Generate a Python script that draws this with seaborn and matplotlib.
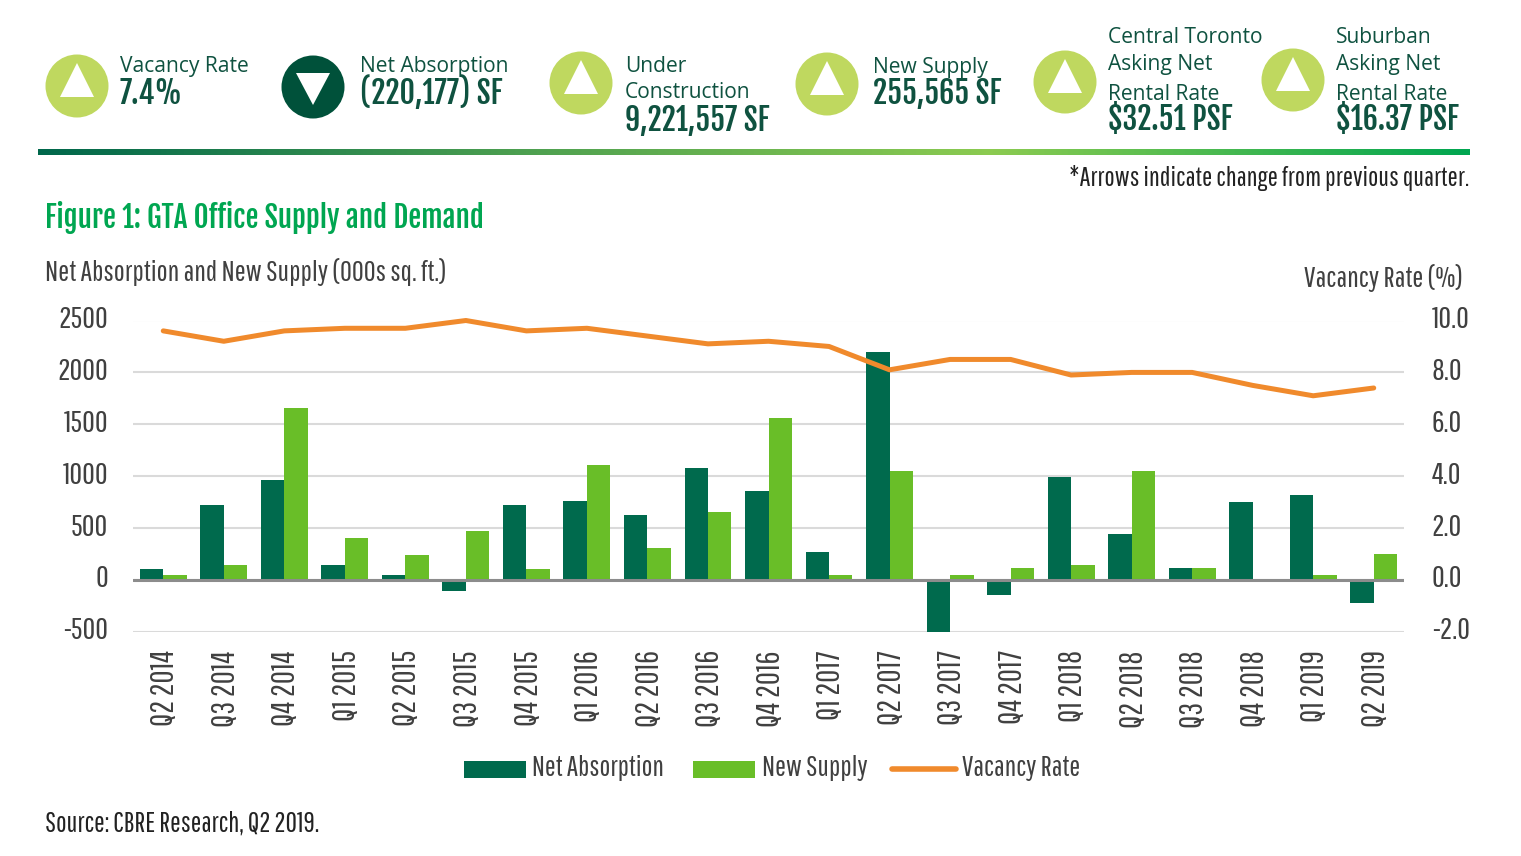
import numpy as np
import pandas as pd
import seaborn as sns
from matplotlib import pyplot as plt
from matplotlib import font_manager as fm
from matplotlib.colors import LinearSegmentedColormap
from matplotlib.patches import Ellipse, Polygon
from matplotlib.transforms import ScaledTranslation

W, H = 1521, 856

quarters = ["Q2 2014", "Q3 2014", "Q4 2014", "Q1 2015", "Q2 2015", "Q3 2015", "Q4 2015",
            "Q1 2016", "Q2 2016", "Q3 2016", "Q4 2016", "Q1 2017", "Q2 2017", "Q3 2017",
            "Q4 2017", "Q1 2018", "Q2 2018", "Q3 2018", "Q4 2018", "Q1 2019", "Q2 2019"]
net_absorption = [110, 725, 960, 150, 50, -105, 725, 760, 630, 1080, 855, 275, 2200, -500,
                  -140, 990, 440, 115, 755, 820, -225]
new_supply = [50, 150, 1660, 405, 245, 470, 110, 1110, 310, 660, 1560, 50, 1050, 50,
              115, 150, 1050, 115, 0, 50, 250]
vacancy_rate = [9.6, 9.2, 9.6, 9.7, 9.7, 10.0, 9.6, 9.7, 9.4, 9.1, 9.2, 9.0, 8.1, 8.5,
                8.5, 7.9, 8.0, 8.0, 7.5, 7.1, 7.4]
left_ticks = [-500, 0, 500, 1000, 1500, 2000, 2500]
right_ticks = [-2, 0, 2, 4, 6, 8, 10]

DARK = "#006A4D"
LIGHT = "#69BE28"
ORANGE = "#F08A2C"
KPI_LIGHT = "#BFD85F"
KPI_DARK = "#00513A"
KPI_TEXT = "#0F5240"
TITLE = "#00A651"
GREY = "#404040"

sns.set_theme(style="white")
names = {f.name for f in fm.fontManager.ttflist}


def pick(*candidates):
    for c in candidates:
        if c in names:
            return c
    return "Liberation Sans"


NARROW = pick("Pathway Gothic One", "Liberation Sans Narrow")
TITLE_FONT = pick("Fjalla One", "Oswald", "League Gothic")
plt.rcParams["font.family"] = [NARROW, "DejaVu Sans"]
plt.rcParams["axes.unicode_minus"] = False


def px(size):
    return size * 0.72


fig = plt.figure(figsize=(W / 100, H / 100), dpi=100, facecolor="white")

# main chart, placed in pixel terms
left, right, top, bottom = 133, 1404, 320.5, 632
ax = fig.add_axes([left / W, 1 - bottom / H, (right - left) / W, (bottom - top) / H])

df = pd.DataFrame({"quarter": quarters, "Net Absorption": net_absorption, "New Supply": new_supply})
long_df = df.melt(id_vars="quarter", var_name="series", value_name="value")
sns.barplot(data=long_df, x="quarter", y="value", hue="series", palette=[DARK, LIGHT],
            width=0.775, saturation=1, linewidth=0, ax=ax, legend=False, zorder=3)
ax.set_xlim(-0.5, len(quarters) - 0.5)
ax.set_ylim(-500, 2500)
ax.set_yticks(left_ticks)
ax.set_xlabel("")
ax.set_ylabel("")
ax.grid(axis="y", color="#DADADA", lw=1.5, zorder=0)
ax.set_axisbelow(True)
ax.axhline(0, color="#8C8C8C", lw=2.2, zorder=4)
ax.tick_params(axis="y", length=0, pad=18, labelsize=px(31), labelcolor=GREY)
ax.tick_params(axis="x", length=0, pad=13, labelsize=px(32), labelcolor=GREY, rotation=90)
sns.despine(ax=ax, left=True, bottom=True)

ax2 = ax.twinx()
sns.lineplot(x=np.arange(len(quarters)), y=vacancy_rate, color=ORANGE, lw=3.6, ax=ax2, zorder=5,
             clip_on=False, solid_capstyle="round")
ax2.set_ylim(-2, 10)
ax2.set_yticks(right_ticks)
ax2.set_yticklabels([f"{t:.1f}" for t in right_ticks])
ax2.tick_params(axis="y", length=0, pad=20, labelsize=px(31), labelcolor=GREY)
sns.despine(ax=ax2, left=True, right=True, bottom=True)
ax2.patch.set_alpha(0)

# the reference sets its y labels a touch above the gridlines, x labels a touch right
nudge_y = ScaledTranslation(0, 3 / 72, fig.dpi_scale_trans)
for lab in ax.get_yticklabels() + ax2.get_yticklabels():
    lab.set_transform(lab.get_transform() + nudge_y)
nudge_x = ScaledTranslation(1.5 / 72, 0, fig.dpi_scale_trans)
for lab in ax.get_xticklabels():
    lab.set_transform(lab.get_transform() + nudge_x)

# overlay in image pixels for header and captions
ov = fig.add_axes([0, 0, 1, 1], zorder=10)
ov.axis("off")
ov.patch.set_alpha(0)

# gradient rule under the KPI strip
cmap = LinearSegmentedColormap.from_list("rule", ["#00674B", "#4C9F50", "#8CCB50", "#00A651"])
ov.imshow(np.linspace(0, 1, 512).reshape(1, -1), extent=(38, 1470, 155, 149), cmap=cmap, aspect="auto")
ov.set_xlim(0, W)
ov.set_ylim(H, 0)


def kpi(cx, cy, up, labels, label_ys, value, value_y, tx):
    ov.add_patch(Ellipse((cx, cy), 63, 63, color=KPI_LIGHT if up else KPI_DARK, lw=0))
    if up:
        tri = [(cx, cy - 23), (cx - 17, cy + 11), (cx + 17, cy + 11)]
    else:
        tri = [(cx, cy + 18), (cx - 17, cy - 14), (cx + 17, cy - 14)]
    ov.add_patch(Polygon(tri, color="white", lw=0))
    for lab, y in zip(labels, label_ys):
        ov.text(tx, y, lab, family=["Open Sans", "DejaVu Sans"], fontsize=px(21), color=KPI_TEXT,
                va="center", ha="left")
    ov.text(tx, value_y + 2, value, family=[TITLE_FONT, "DejaVu Sans"], fontsize=px(30),
            color=KPI_TEXT, va="center", ha="left")


kpi(77, 86, True, ["Vacancy Rate"], [66], "7.4%", 92, 120)
kpi(313, 87, False, ["Net Absorption"], [66], "(220,177) SF", 92, 360)
kpi(581, 83, True, ["Under", "Construction"], [66, 92], "9,221,557 SF", 119, 625)
kpi(827, 84, True, ["New Supply"], [67], "255,565 SF", 92, 873)
kpi(1065, 82, True, ["Central Toronto", "Asking Net", "Rental Rate"], [37, 64, 94], "$32.51 PSF", 118, 1108)
kpi(1293, 80, True, ["Suburban", "Asking Net", "Rental Rate"], [37, 64, 94], "$16.37 PSF", 118, 1336)

ov.text(1469, 178, "*Arrows indicate change from previous quarter.", fontsize=px(27.3), color="#222222",
        ha="right", va="center")
ov.text(45, 217, "Figure 1: GTA Office Supply and Demand", family=[TITLE_FONT, "DejaVu Sans"], fontsize=px(29),
        color=TITLE, ha="left", va="center")
ov.text(45, 272, "Net Absorption and New Supply (000s sq. ft.)", fontsize=px(29.2), color=GREY,
        ha="left", va="center")
ov.text(1463, 278, "Vacancy Rate (%)", fontsize=px(29.3), color=GREY, ha="right", va="center")
ov.text(45, 824, "Source: CBRE Research, Q2 2019.", fontsize=px(27.9), color="#222222", ha="left", va="center")

# legend
ov.add_patch(plt.Rectangle((464, 761), 62, 17, color=DARK, lw=0))
ov.text(532, 768, "Net Absorption", fontsize=px(28.7), color=GREY, ha="left", va="center")
ov.add_patch(plt.Rectangle((693, 761), 62, 17, color=LIGHT, lw=0))
ov.text(762, 768, "New Supply", fontsize=px(29), color=GREY, ha="left", va="center")
ov.plot([892, 956], [769, 769], color=ORANGE, lw=4, solid_capstyle="round")
ov.text(962, 768, "Vacancy Rate", fontsize=px(29), color=GREY, ha="left", va="center")

fig.savefig("out.png", dpi=100)
